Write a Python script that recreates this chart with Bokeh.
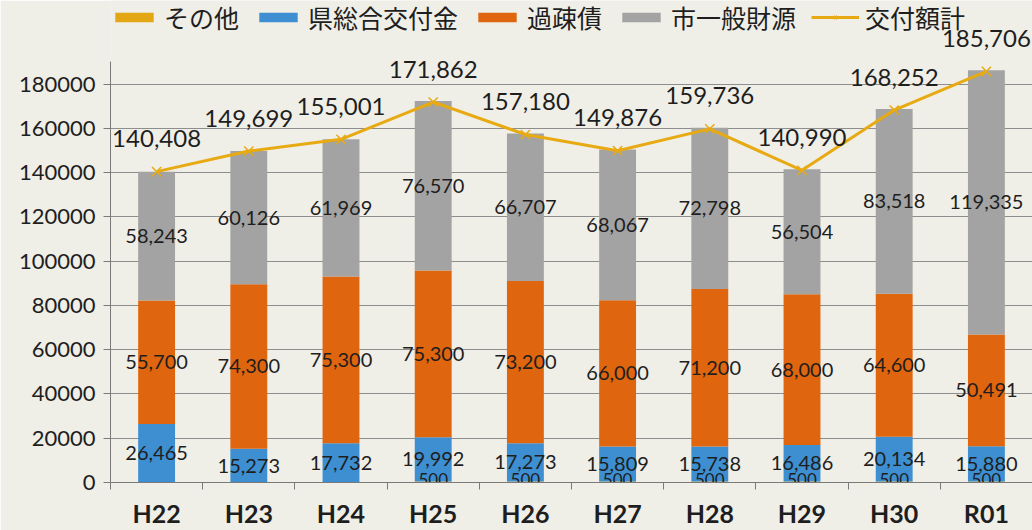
from bokeh.plotting import figure
from bokeh.models import ColumnDataSource, FixedTicker, Legend, LegendItem
from bokeh.core.properties import value
from bokeh.embed import file_html
from bokeh.resources import INLINE

# ---- data ----
categories = ["H22", "H23", "H24", "H25", "H26", "H27", "H28", "H29", "H30", "R01"]
sonota = [0, 0, 0, 500, 500, 500, 500, 500, 500, 500]            # その他
ken_koufukin = [26465, 15273, 17732, 19992, 17273, 15809, 15738, 16486, 20134, 15880]  # 県総合交付金
kaso_sai = [55700, 74300, 75300, 75300, 73200, 66000, 71200, 68000, 64600, 50491]      # 過疎債
shi_ippan = [58243, 60126, 61969, 76570, 66707, 68067, 72798, 56504, 83518, 119335]   # 市一般財源
koufu_total = [140408, 149699, 155001, 171862, 157180, 149876, 159736, 140990, 168252, 185706]  # 交付額計
y_ticks = [0, 20000, 40000, 60000, 80000, 100000, 120000, 140000, 160000, 180000]
y_axis_max = 190000

series_names = ["その他", "県総合交付金", "過疎債", "市一般財源"]
series_vals = [sonota, ken_koufukin, kaso_sai, shi_ippan]
colors = ["#e3a614", "#3d8fd1", "#e0650f", "#a3a3a3"]
line_color = "#e8aa12"
bg = "#efeee7"
num_font = "Lato"
jp_font = "Noto Sans CJK JP"

xs = list(range(1, len(categories) + 1))

FRAME_H = 487          # frame spans the full height above the x axis
AXIS_H = 425           # visible y axis length (0 .. y_axis_max)
p = figure(width=1032, height=530, output_backend="svg", toolbar_location=None,
           x_range=(0.5, 10.5), y_range=(0, y_axis_max * FRAME_H / AXIS_H),
           min_border_left=110, min_border_right=0, min_border_top=0, min_border_bottom=43)
p.background_fill_color = bg
p.border_fill_color = bg
p.outline_line_color = None

# stacked bars
bottoms = [0] * len(xs)
renderers = []
label_x, label_y, label_t = [], [], []
small_x, small_y, small_t = [], [], []
for name, vals, col in zip(series_names, series_vals, colors):
    tops = [b + v for b, v in zip(bottoms, vals)]
    src = ColumnDataSource(dict(x=xs, bottom=bottoms, top=tops))
    r = p.vbar(x="x", bottom="bottom", top="top", width=0.4, source=src,
               fill_color=col, line_color=None)
    renderers.append(r)
    for x, b, v in zip(xs, bottoms, vals):
        if v > 0:
            if v < 5000:
                small_x.append(x); small_y.append(b + v / 2); small_t.append(f"{v:,}")
            else:
                label_x.append(x); label_y.append(b + v / 2); label_t.append(f"{v:,}")
    bottoms = tops

# total line
lsrc = ColumnDataSource(dict(x=xs, y=koufu_total, t=[f"{v:,}" for v in koufu_total]))
lr = p.line("x", "y", source=lsrc, line_color=line_color, line_width=3)
sr = p.scatter("x", "y", source=lsrc, marker="x", size=13, line_color=line_color, line_width=1.5)

# segment labels
p.text(x=label_x, y=label_y, text=label_t, text_align="center", text_baseline="middle",
       text_font=value(num_font), text_font_size="20px", text_color="#1e1e1e")
p.text(x=small_x, y=small_y, text=small_t, text_align="center", text_baseline="middle",
       y_offset=-2, text_font=value(num_font), text_font_size="17px", text_color="#1e1e1e")
# total labels
p.text(x="x", y="y", text="t", source=lsrc, text_align="center", text_baseline="middle",
       y_offset=-33, text_font=value(num_font), text_font_size="24px", text_color="#1e1e1e")

# axes
p.xgrid.grid_line_color = None
p.ygrid.grid_line_color = "#8e8e8e"
p.ygrid.grid_line_width = 1
p.yaxis.ticker = FixedTicker(ticks=y_ticks)
p.yaxis.bounds = (0, y_axis_max)
p.yaxis.formatter.use_scientific = False
p.yaxis.major_label_text_font = num_font
p.yaxis.major_label_text_font_size = "22px"
p.yaxis.major_label_text_color = "#1e1e1e"
p.yaxis.axis_line_color = "#7a7a7a"
p.yaxis.major_tick_line_color = "#7a7a7a"
p.yaxis.major_tick_out = 7
p.yaxis.major_tick_in = 0
p.yaxis.minor_tick_line_color = None
p.yaxis.major_label_standoff = 8

p.xaxis.ticker = FixedTicker(ticks=xs, minor_ticks=[x + 0.5 for x in [0] + xs])
p.xaxis.major_label_overrides = {x: c for x, c in zip(xs, categories)}
p.xaxis.major_tick_line_color = None
p.xaxis.minor_tick_line_color = "#7a7a7a"
p.xaxis.minor_tick_out = 7
p.xaxis.minor_tick_in = 0
p.xaxis.axis_line_color = "#7a7a7a"
p.xaxis.major_label_text_font = num_font
p.xaxis.major_label_text_font_style = "bold"
p.xaxis.major_label_text_font_size = "25px"
p.xaxis.major_label_text_color = "#1e1e1e"
p.xaxis.major_label_standoff = 8

# legend
items = [LegendItem(label=n, renderers=[r]) for n, r in zip(series_names, renderers)]
items.append(LegendItem(label="交付額計", renderers=[lr, sr]))
legend = Legend(items=items, orientation="horizontal", location=(0, 447),
                glyph_width=48, glyph_height=12, label_text_font=jp_font,
                label_text_font_size="25px", label_text_color="#1e1e1e",
                label_standoff=6, spacing=15, padding=0, margin=0,
                background_fill_alpha=0, border_line_color=None)
p.add_layout(legend, "center")

open("out.html", "w").write(file_html(p, INLINE))
